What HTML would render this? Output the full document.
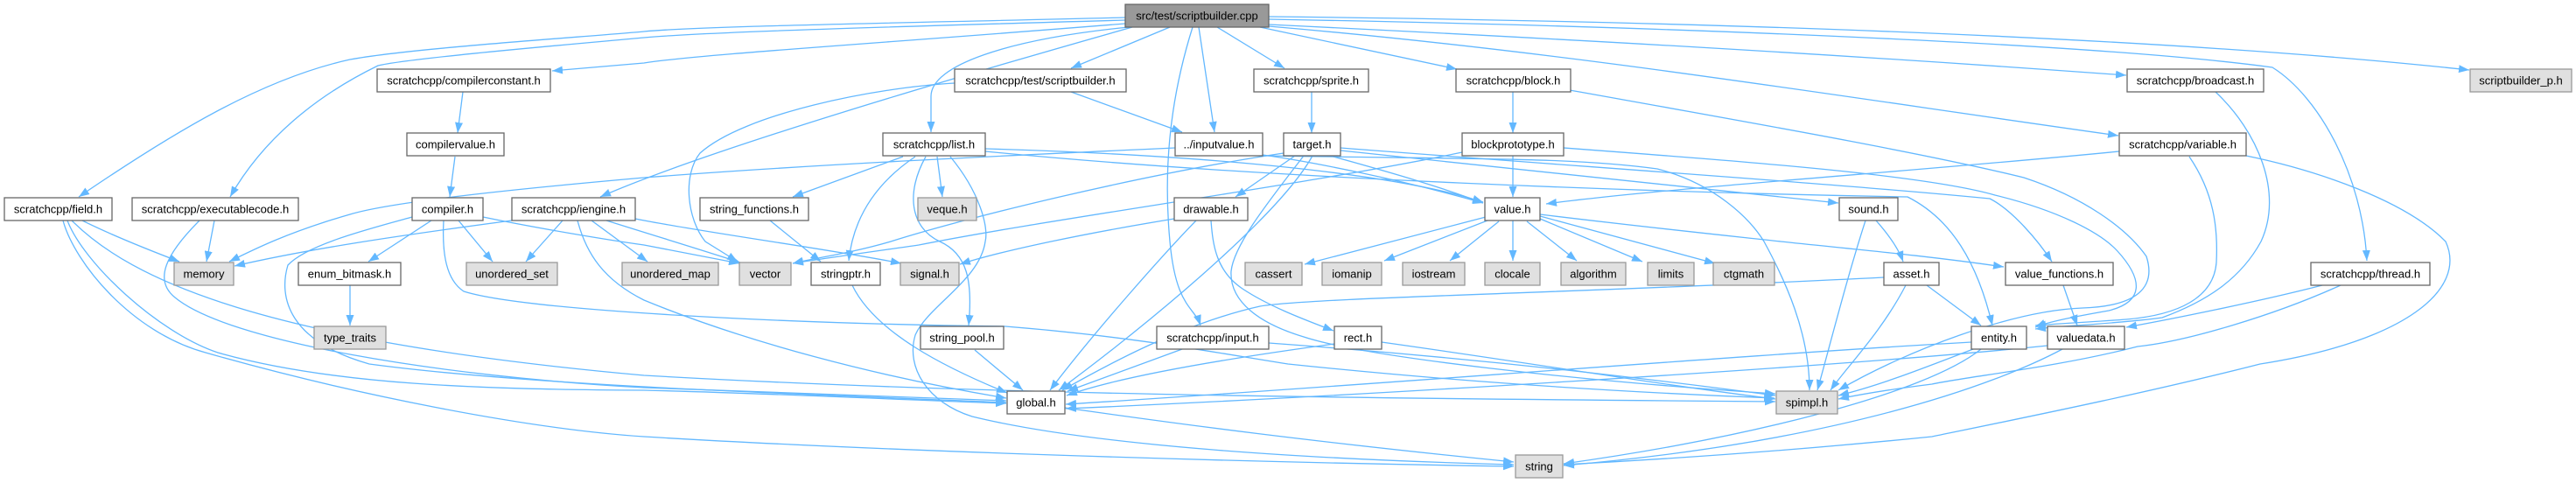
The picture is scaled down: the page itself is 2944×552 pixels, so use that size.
<!DOCTYPE html>
<html><head><meta charset="utf-8"><style>
html,body{margin:0;padding:0;background:#fff;}
svg{display:block;}
text{font-family:"Liberation Sans",Arial,sans-serif;font-size:13px;fill:#000;text-anchor:middle;}
.e{fill:none;stroke:#63b8ff;stroke-width:1.3;marker-end:url(#m);}
.w{fill:#fff;stroke:#666;stroke-width:1.3;}
.g{fill:#e0e0e0;stroke:#999;stroke-width:1.3;}
.t{fill:#999;stroke:#666;stroke-width:1.3;}
</style></head><body>
<svg width="2944" height="552" viewBox="0 0 2944 552" xmlns="http://www.w3.org/2000/svg">
<defs><marker id="m" viewBox="0 0 12 9" refX="12" refY="4.5" markerWidth="12" markerHeight="9" markerUnits="userSpaceOnUse" orient="auto"><path d="M0,0L12,4.5L0,9z" fill="#63b8ff"/></marker></defs>
<rect width="2944" height="552" fill="#fff"/>
<g>
<!-- from top node -->
<path class="e" d="M1286,20 C1000,27 800,30 736,36 S470,55 400,68 C300,90 200,150 90,225"/>
<path class="e" d="M1286,23 C1000,31 800,37 736,43 S470,66 432,75 C360,110 300,160 263,225"/>
<path class="e" d="M1286,27 C1000,50 800,62 736,72 L631,81"/>
<path class="e" d="M1294,31 C1050,100 800,175 686,225"/>
<path class="e" d="M1290,31 C1150,45 1064,75 1064,110 L1064,151"/>
<path class="e" d="M1337,31 L1224,78"/>
<path class="e" d="M1363,31 C1335,120 1330,200 1337,276 S1365,350 1372,372"/>
<path class="e" d="M1370,31 L1388,151"/>
<path class="e" d="M1391,31 L1468,78"/>
<path class="e" d="M1440,31 L1665,79"/>
<path class="e" d="M1450,28 C1800,45 2100,62 2430,86"/>
<path class="e" d="M1450,30 C1800,60 2100,110 2421,155"/>
<path class="e" d="M1450,22 C1900,30 2400,50 2597,77 C2650,110 2700,200 2705,298"/>
<path class="e" d="M1450,19 C2000,25 2500,45 2822,80"/>
<!-- compiler chain -->
<path class="e" d="M529,105 L523,152"/>
<path class="e" d="M520,179 L514,225"/>
<!-- field.h -->
<path class="e" d="M94,252 C120,265 150,278 205,299"/>
<path class="e" d="M72,252 C85,300 150,380 235,403 C400,450 600,490 736,499 C1000,515 1400,528 1730,533"/>
<path class="e" d="M77,252 C95,300 180,380 249,403 C380,440 550,445 736,446 C900,450 1050,458 1150,461"/>
<path class="e" d="M82,252 C150,320 300,390 736,429 C1100,450 1500,455 2029,459"/>
<!-- executablecode -->
<path class="e" d="M245,252 L236,299"/>
<path class="e" d="M228,252 C190,290 175,320 200,340 C260,390 500,430 736,443 C950,450 1050,455 1150,458"/>
<!-- compiler.h -->
<path class="e" d="M471,248 C420,262 350,280 329,303 C318,340 330,390 422,416 C600,440 900,450 1150,460"/>
<path class="e" d="M493,252 L421,299"/>
<path class="e" d="M507,252 C505,290 510,320 530,333 C600,355 900,370 1149,373 C1300,385 1400,405 1472,416 C1700,440 1900,450 2028,455"/>
<path class="e" d="M524,252 L563,299"/>
<path class="e" d="M552,248 C620,262 700,275 736,280 L845,301"/>
<!-- iengine -->
<path class="e" d="M585,252 C450,270 350,285 268,304"/>
<path class="e" d="M643,252 L601,299"/>
<path class="e" d="M660,252 C670,290 690,320 736,343 C850,390 1000,430 1150,455"/>
<path class="e" d="M676,252 L740,299"/>
<path class="e" d="M693,252 C750,270 800,285 846,300"/>
<path class="e" d="M726,250 C800,265 950,285 1030,301"/>
<!-- inputvalue -->
<path class="e" d="M1343,169 C1100,180 900,190 736,203 C600,215 450,230 400,245 C330,265 290,285 262,299"/>
<path class="e" d="M1443,177 C1500,185 1600,205 1695,232"/>
<path class="e" d="M1443,178 C1700,182 1800,180 1894,193 C1960,210 2000,250 2016,276 C2040,320 2068,380 2068,446"/>
<!-- test/scriptbuilder.h -->
<path class="e" d="M1091,95 C1000,100 850,130 800,175 C780,200 785,250 806,276 L843,299"/>
<path class="e" d="M1224,105 L1351,151"/>
<!-- list.h -->
<path class="e" d="M1032,179 L906,225"/>
<path class="e" d="M1046,179 C1000,210 975,250 970,298"/>
<path class="e" d="M1071,179 L1077,225"/>
<path class="e" d="M1058,179 C1035,220 1040,260 1074,276 C1105,290 1112,320 1107,372"/>
<path class="e" d="M1086,179 C1120,220 1130,260 1126,276 C1120,320 1060,350 1046,383 C1035,420 1060,460 1111,476 C1250,510 1500,525 1730,531"/>
<path class="e" d="M1126,170 C1400,178 1600,200 1695,231"/>
<path class="e" d="M1126,173 C1450,205 1900,220 2180,225 C2230,250 2260,300 2277,372"/>
<!-- target.h -->
<path class="e" d="M1480,178 L1412,225"/>
<path class="e" d="M1467,175 C1300,200 1100,250 1018,276 C970,290 930,295 906,301"/>
<path class="e" d="M1520,178 C1600,200 1650,215 1695,232"/>
<path class="e" d="M1532,172 L2101,232"/>
<path class="e" d="M1490,178 C1450,230 1410,280 1407,310 C1405,345 1440,370 1490,385 C1560,408 1800,435 2029,450"/>
<path class="e" d="M1500,178 C1460,250 1300,380 1210,446"/>
<path class="e" d="M1532,169 C1800,190 2100,210 2274,227 C2300,240 2330,276 2345,299"/>
<!-- sprite / block -->
<path class="e" d="M1499,105 L1499,152"/>
<path class="e" d="M1729,105 L1729,152"/>
<path class="e" d="M1794,103 C2000,140 2200,175 2313,203 C2380,225 2430,260 2453,293 C2465,330 2440,350 2380,352 C2300,355 2180,400 2101,446"/>
<!-- blockprototype -->
<path class="e" d="M1729,178 L1729,225"/>
<path class="e" d="M1671,174 C1500,210 1200,250 1050,280 C980,290 930,297 906,301"/>
<path class="e" d="M1787,169 C2000,185 2200,200 2280,223 C2350,240 2400,265 2420,287 C2450,320 2450,345 2410,355 C2370,362 2340,368 2326,374"/>
<!-- broadcast -->
<path class="e" d="M2532,105 C2580,150 2610,220 2584,276 C2560,320 2520,345 2471,363 C2420,370 2360,372 2326,376"/>
<!-- variable -->
<path class="e" d="M2422,173 C2200,195 1900,215 1767,233"/>
<path class="e" d="M2502,179 C2530,220 2535,260 2533,300 C2530,340 2490,360 2430,365 C2390,368 2350,370 2326,372"/>
<path class="e" d="M2567,178 C2650,195 2750,230 2795,276 C2820,330 2750,390 2583,416 C2450,450 2300,480 2208,499 C2050,515 1900,525 1787,531"/>
<!-- thread -->
<path class="e" d="M2654,326 C2580,345 2480,365 2430,374"/>
<path class="e" d="M2675,326 C2600,360 2500,390 2443,396 C2350,420 2250,430 2208,439 C2160,445 2120,452 2101,456"/>
<!-- sound / asset -->
<path class="e" d="M2132,252 C2110,320 2090,400 2077,446"/>
<path class="e" d="M2144,252 C2160,270 2170,285 2175,299"/>
<path class="e" d="M2178,326 C2150,380 2110,420 2092,446"/>
<path class="e" d="M2153,317 C1800,335 1500,340 1440,350 C1350,370 1260,420 1214,446"/>
<path class="e" d="M2202,326 L2264,372"/>
<!-- value.h -->
<path class="e" d="M1698,248 L1491,302"/>
<path class="e" d="M1700,252 L1582,298"/>
<path class="e" d="M1713,253 L1657,298"/>
<path class="e" d="M1729,252 L1729,298"/>
<path class="e" d="M1745,253 L1802,298"/>
<path class="e" d="M1760,250 L1877,299"/>
<path class="e" d="M1760,247 L1960,301"/>
<path class="e" d="M1760,245 C1900,262 2000,272 2035,276 C2120,285 2200,292 2290,305"/>
<!-- drawable -->
<path class="e" d="M1342,250 C1250,265 1150,285 1097,302"/>
<path class="e" d="M1367,252 C1330,290 1250,380 1200,446"/>
<path class="e" d="M1384,252 C1386,280 1390,310 1420,330 C1450,350 1490,365 1524,378"/>
<!-- rect / input / misc -->
<path class="e" d="M1525,393 C1400,410 1280,430 1219,452"/>
<path class="e" d="M1579,391 C1750,415 1900,440 2029,456"/>
<path class="e" d="M1351,399 L1220,447"/>
<path class="e" d="M1450,392 C1700,410 1900,435 2029,452"/>
<path class="e" d="M1114,400 L1169,446"/>
<path class="e" d="M974,326 C1000,380 1080,420 1151,449"/>
<path class="e" d="M880,252 L938,299"/>
<path class="e" d="M1217,466 C1350,485 1500,505 1730,528"/>
<path class="e" d="M400,326 L400,372"/>
<path class="e" d="M2358,326 L2374,372"/>
<!-- entity / valuedata -->
<path class="e" d="M2253,391 C2000,405 1500,445 1218,462"/>
<path class="e" d="M2255,399 C2200,420 2150,440 2101,452"/>
<path class="e" d="M2264,399 C2200,450 2000,500 1787,530"/>
<path class="e" d="M2357,399 C2280,440 2100,505 1787,532"/>
<path class="e" d="M2340,395 C2100,420 1500,455 1218,467"/>
</g>
<g>
<rect class="t" x="1286" y="5" width="164" height="26"/><text x="1368" y="22.5">src/test/scriptbuilder.cpp</text>
<rect class="w" x="431" y="79" width="198" height="26"/><text x="530" y="96.5">scratchcpp/compilerconstant.h</text>
<rect class="w" x="1091" y="79" width="196" height="26"/><text x="1189" y="96.5">scratchcpp/test/scriptbuilder.h</text>
<rect class="w" x="1433" y="79" width="131" height="26"/><text x="1498.5" y="96.5">scratchcpp/sprite.h</text>
<rect class="w" x="1664" y="79" width="131" height="26"/><text x="1729.5" y="96.5">scratchcpp/block.h</text>
<rect class="w" x="2431" y="79" width="156" height="26"/><text x="2509" y="96.5">scratchcpp/broadcast.h</text>
<rect class="g" x="2823" y="79" width="116" height="26"/><text x="2881" y="96.5">scriptbuilder_p.h</text>
<rect class="w" x="465" y="152" width="111" height="26"/><text x="520.5" y="169.5">compilervalue.h</text>
<rect class="w" x="1009" y="152" width="117" height="26"/><text x="1067.5" y="169.5">scratchcpp/list.h</text>
<rect class="w" x="1343" y="152" width="100" height="26"/><text x="1393" y="169.5">../inputvalue.h</text>
<rect class="w" x="1467" y="152" width="65" height="26"/><text x="1499.5" y="169.5">target.h</text>
<rect class="w" x="1671" y="152" width="116" height="26"/><text x="1729" y="169.5">blockprototype.h</text>
<rect class="w" x="2422" y="152" width="145" height="26"/><text x="2494.5" y="169.5">scratchcpp/variable.h</text>
<rect class="w" x="5" y="226" width="123" height="26"/><text x="66.5" y="243.5">scratchcpp/field.h</text>
<rect class="w" x="151" y="226" width="190" height="26"/><text x="246" y="243.5">scratchcpp/executablecode.h</text>
<rect class="w" x="471" y="226" width="81" height="26"/><text x="511.5" y="243.5">compiler.h</text>
<rect class="w" x="585" y="226" width="141" height="26"/><text x="655.5" y="243.5">scratchcpp/iengine.h</text>
<rect class="w" x="800" y="226" width="124" height="26"/><text x="862" y="243.5">string_functions.h</text>
<rect class="g" x="1049" y="226" width="67" height="26"/><text x="1082.5" y="243.5">veque.h</text>
<rect class="w" x="1342" y="226" width="84" height="26"/><text x="1384" y="243.5">drawable.h</text>
<rect class="w" x="1697" y="226" width="63" height="26"/><text x="1728.5" y="243.5">value.h</text>
<rect class="w" x="2102" y="226" width="67" height="26"/><text x="2135.5" y="243.5">sound.h</text>
<rect class="g" x="199" y="300" width="68" height="26"/><text x="233" y="317.5">memory</text>
<rect class="w" x="341" y="300" width="117" height="26"/><text x="399.5" y="317.5">enum_bitmask.h</text>
<rect class="g" x="533" y="300" width="104" height="26"/><text x="585" y="317.5">unordered_set</text>
<rect class="g" x="711" y="300" width="110" height="26"/><text x="766" y="317.5">unordered_map</text>
<rect class="g" x="845" y="300" width="59" height="26"/><text x="874.5" y="317.5">vector</text>
<rect class="w" x="927" y="300" width="79" height="26"/><text x="966.5" y="317.5">stringptr.h</text>
<rect class="g" x="1029" y="300" width="67" height="26"/><text x="1062.5" y="317.5">signal.h</text>
<rect class="g" x="1423" y="300" width="65" height="26"/><text x="1455.5" y="317.5">cassert</text>
<rect class="g" x="1511" y="300" width="68" height="26"/><text x="1545" y="317.5">iomanip</text>
<rect class="g" x="1603" y="300" width="71" height="26"/><text x="1638.5" y="317.5">iostream</text>
<rect class="g" x="1697" y="300" width="63" height="26"/><text x="1728.5" y="317.5">clocale</text>
<rect class="g" x="1784" y="300" width="74" height="26"/><text x="1821" y="317.5">algorithm</text>
<rect class="g" x="1883" y="300" width="53" height="26"/><text x="1909.5" y="317.5">limits</text>
<rect class="g" x="1958" y="300" width="70" height="26"/><text x="1993" y="317.5">ctgmath</text>
<rect class="w" x="2153" y="300" width="63" height="26"/><text x="2184.5" y="317.5">asset.h</text>
<rect class="w" x="2292" y="300" width="123" height="26"/><text x="2353.5" y="317.5">value_functions.h</text>
<rect class="w" x="2641" y="300" width="136" height="26"/><text x="2709" y="317.5">scratchcpp/thread.h</text>
<rect class="g" x="359" y="373" width="82" height="26"/><text x="400" y="390.5">type_traits</text>
<rect class="w" x="1052" y="373" width="95" height="26"/><text x="1099.5" y="390.5">string_pool.h</text>
<rect class="w" x="1322" y="373" width="128" height="26"/><text x="1386" y="390.5">scratchcpp/input.h</text>
<rect class="w" x="1525" y="373" width="54" height="26"/><text x="1552" y="390.5">rect.h</text>
<rect class="w" x="2253" y="373" width="63" height="26"/><text x="2284.5" y="390.5">entity.h</text>
<rect class="w" x="2340" y="373" width="88" height="26"/><text x="2384" y="390.5">valuedata.h</text>
<rect class="w" x="1151" y="447" width="66" height="26"/><text x="1184" y="464.5">global.h</text>
<rect class="g" x="2030" y="447" width="70" height="26"/><text x="2065" y="464.5">spimpl.h</text>
<rect class="g" x="1732" y="520" width="54" height="26"/><text x="1759" y="537.5">string</text>
</g>
</svg>
</body></html>
